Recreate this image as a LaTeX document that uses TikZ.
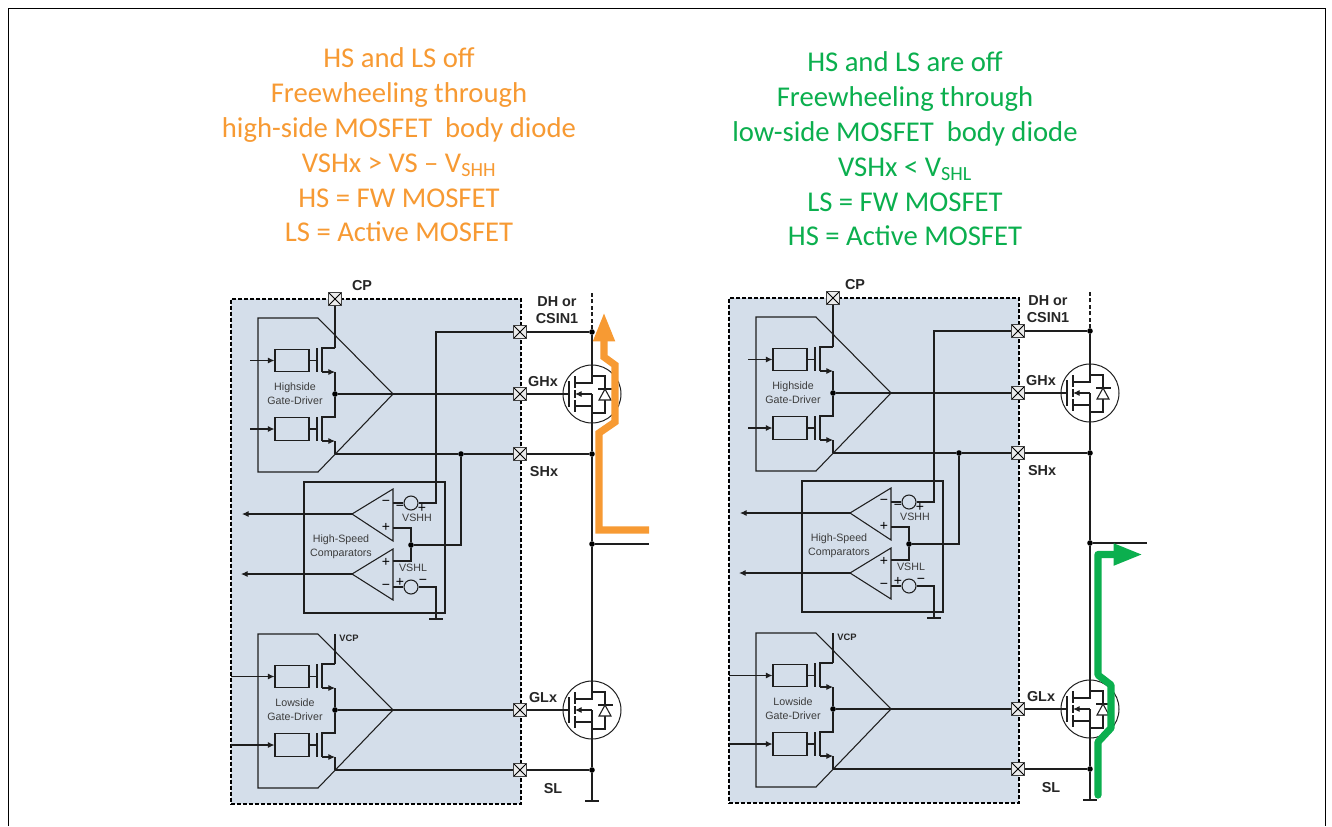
\documentclass[tikz,border=0pt]{standalone}
\usepackage{fontspec}
\setmainfont{Liberation Sans}
\newfontfamily\calib{Carlito}
\usetikzlibrary{arrows.meta}
\definecolor{panelfill}{HTML}{D4DEEA}
\definecolor{wire}{HTML}{1E1E1E}
\definecolor{flowor}{HTML}{F79A33}
\definecolor{flowgr}{HTML}{0BAF4E}
\definecolor{softtext}{HTML}{3C3C3C}
\tikzset{
  x=.75pt,y=-.75pt,
  w/.style={draw=wire,line width=.8pt},
  tipline/.style={w,-{Latex[length=5pt,width=4.6pt]}},
  pad/.style={rectangle,draw=black!75,fill=white!92!black,line width=.8pt,minimum size=9.5pt,inner sep=0pt,
    path picture={\draw[black,line width=.7pt] (path picture bounding box.north west)--(path picture bounding box.south east)
      (path picture bounding box.north east)--(path picture bounding box.south west);}},
  dot/.style={circle,fill=black,minimum size=4.2pt,inner sep=0pt},
  ibox/.style={rectangle,draw=wire,line width=.8pt,minimum width=25.5pt,minimum height=17pt,inner sep=0pt},
  src/.style={circle,draw=wire,line width=.8pt,minimum size=10.5pt,inner sep=0pt},
  qcircle/.style={circle,draw=wire,line width=.75pt,minimum size=43.5pt,inner sep=0pt},
  lab/.style={font=\bfseries\fontsize{10.8}{12.6}\selectfont,text=black!85,inner sep=0pt,align=center},
  sml/.style={font=\fontsize{8}{10.4}\selectfont,text=softtext,inner sep=0pt,align=center},
  sgn/.style={font=\fontsize{10.5}{10.5}\selectfont,text=black,inner sep=0pt},
  title/.style={font=\calib\fontsize{21.5}{26.1}\selectfont,align=center,inner sep=0pt},
  flow/.style={line width=5.4pt,line join=miter}
}
% mosfet: name, x, y
\newcommand\mosfet[3]{
  \begin{scope}[shift={(#2,#3)}]
    \node[qcircle] (#1) at (0,0) {};
    \draw[w] (-23,-13)--(-23,13);
    \draw[w,line width=1.1pt] (-17,-18)--(-17,-6) (-17,-4)--(-17,4) (-17,6)--(-17,18);
    \draw[w] (-17,-11)--(0,-11)--(#1.north);
    \draw[w] (-17,12)--(0,12) (#1.south)--(0,0);
    \draw[tipline] (0,0)--(-17,0);
    \draw[w] (0,-18)--(13,-18)--(13,19)--(0,19);
    \draw[w] (6,-5)--(21,-5);
    \draw[w,fill=white] (13,-5)--(7,6)--(19,6)--cycle;
    \coordinate (#1g) at (-23,0);
  \end{scope}
}
% driver: name, yshift, text, input x
\newcommand\driver[4]{
  \begin{scope}[shift={(0,#2)}]
    \draw[w] (258,318)--(318,318)--(393,394)--(318,472)--(258,472)--cycle;
    \node[ibox] (#1ba) at (292,360.5) {};
    \node[ibox] (#1bb) at (292,429) {};
    \coordinate (#1ia) at (#4,360.5);
    \coordinate (#1ib) at (#4,429);
    \draw[tipline] (#1ia)--(#1ba);
    \draw[tipline] (#1ib)--(#1bb);
    \draw[w] (#1ba)++(17,0)--++(8,0);
    \draw[w] (#1bb)++(17,0)--++(8,0);
    \draw[w,line width=1.1pt] (317,348)--(317,372) (317,417)--(317,441);
    \coordinate (#1d) at (335,348);
    \node[dot] (#1m) at (335,394) {};
    \coordinate (#1s) at (335,454);
    \draw[w] (#1d)--(322,348)--(322,372);
    \draw[tipline] (322,372)--(335,372);
    \draw[w] (335,372)--(#1m)--(335,417)--(322,417)--(322,441);
    \draw[tipline] (322,441)--(335,441);
    \draw[w] (335,441)--(#1s);
    \coordinate (#1a) at (393,394);
    \node[sml] (#1t) at (295,393.5) {#3};
  \end{scope}
}
% panel: prefix, x shift, y shift, CP x, DH x
\newcommand\panel[5]{
  \begin{scope}[shift={(#2,#3)}]
    \node[draw=black,fill=panelfill,dash pattern=on 3pt off 1.5pt,line width=1.1pt,minimum width=217.5pt,minimum height=379pt,inner sep=0pt] (#1frame) at (376,551.5) {};
    \driver{#1hd}{0}{Highside\\Gate-Driver}{250}
    \driver{#1ld}{316}{Lowside\\Gate-Driver}{231}
    \node[pad] (#1cp) at (335,299) {};
    \node[pad] (#1dh) at (520,332) {};
    \node[pad] (#1gh) at (520,394) {};
    \node[pad] (#1sh) at (520,454) {};
    \node[pad] (#1gl) at (520,710) {};
    \node[pad] (#1sl) at (520,770) {};
    \node[dot] (#1jd) at (592,332) {};
    \node[dot] (#1js) at (592,454) {};
    \node[dot] (#1jm) at (592,544) {};
    \node[dot] (#1jl) at (592,770) {};
    \node[dot] (#1jc) at (461,454) {};
    \node[dot] (#1jp) at (411,545) {};
    \coordinate (#1top) at (592,293);
    \coordinate (#1out) at (649,544);
    \coordinate (#1gnd) at (592,801);
    \coordinate (#1vcp) at (335,634);
    \mosfet{#1qh}{592}{394}
    \mosfet{#1ql}{592}{710}
    % connections
    \draw[w] (#1cp)--(#1hdd);
    \draw[w] (#1vcp)--(#1ldd);
    \draw[w] (#1hdm)--(#1gh);
    \draw[w] (#1ldm)--(#1gl);
    \draw[w] (#1hds)--(#1jc)--(#1sh);
    \draw[w] (#1lds)--(#1sl);
    \draw[w] (#1dh)--(#1jd);
    \draw[w] (#1gh)--(#1qhg);
    \draw[w] (#1sh)--(#1js);
    \draw[w] (#1gl)--(#1qlg);
    \draw[w] (#1sl)--(#1jl);
    \draw[w,line width=1.1pt,dash pattern=on 3pt off 1.8pt] (#1jd)--(#1top);
    \draw[w] (#1jd)--(#1qh);
    \draw[w] (#1qh.south)--(#1js)--(#1jm)--(#1ql.north);
    \draw[w] (#1ql.south)--(#1jl)--(#1gnd);
    \draw[w] (585,801)--(599,801);
    \draw[w] (#1jm)--(#1out);
    % comparators
    \draw[w] (304,482) rectangle (445,613);
    \draw[w] (352,514)--(393,489)--(393,541)--cycle;
    \draw[w] (352,574)--(393,549)--(393,600)--cycle;
    \coordinate (#1co) at (352,514);
    \coordinate (#1cp2) at (352,574);
    \coordinate (#1ce) at (242,514);
    \coordinate (#1cf) at (241,574);
    \draw[tipline] (#1co)--(#1ce);
    \draw[tipline] (#1cp2)--(#1cf);
    \node[src] (#1vh) at (411,503) {};
    \node[src] (#1vl) at (411,587) {};
    \draw[w] (393,503)--(#1vh)--(436,503)--(436,332)--(#1dh);
    \draw[w] (393,587)--(#1vl)--(436,587)--(436,619);
    \draw[w] (429,619)--(443,619);
    \draw[w] (393,528)--(411,528)--(#1jp)--(411,561)--(393,561);
    \draw[w] (#1jp)-|(#1jc);
    % texts
    \node[sml] (#1tc) at (341,546.5) {High-Speed\\Comparators};
    \node[sml] (#1tvh) at (417,518) {VSHH};
    \node[sml] (#1tvl) at (413,568) {VSHL};
    \node[sgn] (#1s1) at (386,503) {−};
    \node[sgn] (#1s2) at (386,527) {+};
    \node[sgn] (#1s3) at (386,562) {+};
    \node[sgn] (#1s4) at (386,587) {−};
    \node[sgn] (#1s5) at (400,508) {−};
    \node[sgn] (#1s6) at (422,508) {+};
    \node[sgn] (#1s7) at (400,582) {+};
    \node[sgn] (#1s8) at (423,582) {−};
    \node[lab] (#1lcp) at (#4,286) {CP};
    \node[lab] (#1ldh) at (#5,310.5) {DH or\\CSIN1};
    \node[lab] (#1lgh) at (543,382) {GHx};
    \node[lab] (#1lsh) at (544,472) {SHx};
    \node[lab] (#1lgl) at (543,698) {GLx};
    \node[lab] (#1lsl) at (553,789) {SL};
    \node[lab,font=\bfseries\fontsize{7}{8}\selectfont] (#1lvc) at (349,638) {VCP};
  \end{scope}
}
\begin{document}
\begin{tikzpicture}
\useasboundingbox (0,0) rectangle (1332,826);
\fill[white] (0,0) rectangle (1332,826);
\draw[black,line width=.6pt] (8,826)--(8,8)--(1325.5,8)--(1325.5,826);
\node[title,text=flowor] (ttl) at (399,145) {HS and LS off\\Freewheeling through\\high-side MOSFET\ \ body diode\\VSHx > VS – V\textsubscript{SHH}\\HS = FW MOSFET\\LS = Active MOSFET};
\node[title,text=flowgr] (ttr) at (905,149) {HS and LS are off\\Freewheeling through\\low-side MOSFET\ \ body diode\\VSHx < V\textsubscript{SHL}\\LS = FW MOSFET\\HS = Active MOSFET};
\panel{a}{0}{0}{362}{557}
\panel{b}{498}{-1}{357}{550}
\coordinate (fo1) at (649,530);
\coordinate (fo2) at (604,312);
\draw[flow,draw=flowor,-{Triangle[length=22pt,width=15pt]}] (fo1)--(599,530)--(599,433)--(615,422)--(615,365)--(604,357)--(fo2);
\coordinate (fg1) at (1098,795);
\coordinate (fg2) at (1143,554.5);
\draw[flow,draw=flowgr,line cap=round,line join=round,-{Triangle[length=22pt,width=15pt]}] (fg1)--(1098,742)--(1111,728)--(1111,685)--(1098,675)--(1098,554.5)--(fg2);
\end{tikzpicture}
\end{document}
